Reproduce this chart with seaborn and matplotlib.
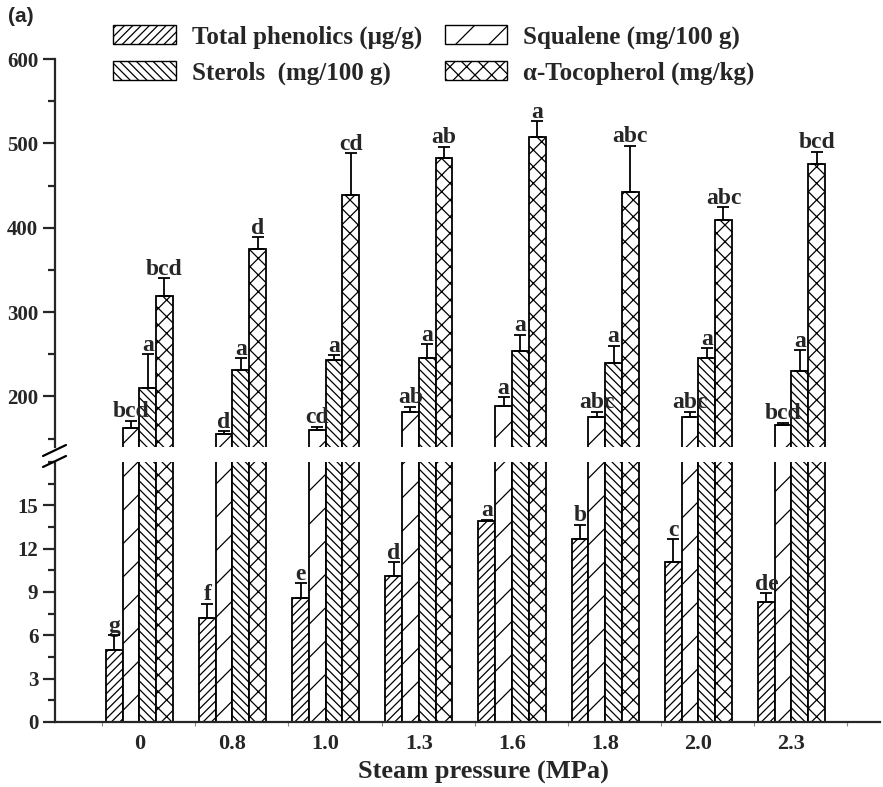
import numpy as np
import pandas as pd
import matplotlib
matplotlib.use("Agg")
import matplotlib.pyplot as plt
import seaborn as sns
from matplotlib.patches import Patch
from matplotlib.lines import Line2D
from matplotlib.ticker import MultipleLocator, FixedLocator

PRESSURES = ["0", "0.8", "1.0", "1.3", "1.6", "1.8", "2.0", "2.3"]
SERIES = ["Total phenolics (μg/g)", "Squalene (mg/100 g)",
          "Sterols  (mg/100 g)", "α-Tocopherol (mg/kg)"]
HATCHES = ["////", "/", "\\\\\\\\", "xx"]

phenolics = [5.0, 7.2, 8.6, 10.1, 13.9, 12.7, 11.1, 8.3]
phenolics_err = [1.0, 1.0, 1.0, 0.95, 0.1, 0.95, 1.55, 0.6]
squalene = [162, 155, 160, 181, 189, 175, 176, 166]
squalene_err = [9, 4, 4, 7, 10, 7, 6, 3]
sterols = [210, 231, 243, 245, 254, 240, 245, 230]
sterols_err = [40, 14, 6, 17, 19, 20, 12, 25]
tocopherol = [319, 375, 439, 483, 508, 442, 409, 475]
tocopherol_err = [21, 14, 49, 13, 18, 55, 15, 15]

phenolics_sig = ["g", "f", "e", "d", "a", "b", "c", "de"]
squalene_sig = ["bcd", "d", "cd", "ab", "a", "abc", "abc", "bcd"]
sterols_sig = ["a", "a", "a", "a", "a", "a", "a", "a"]
tocopherol_sig = ["bcd", "d", "cd", "ab", "a", "abc", "abc", "bcd"]

values = [phenolics, squalene, sterols, tocopherol]
errors = [phenolics_err, squalene_err, sterols_err, tocopherol_err]
letters = [phenolics_sig, squalene_sig, sterols_sig, tocopherol_sig]

df = pd.DataFrame({
    "pressure": PRESSURES * 4,
    "series": [s for s in SERIES for _ in PRESSURES],
    "value": [v for vals in values for v in vals],
})

sns.set_style("ticks")
plt.rcParams["font.family"] = ["Liberation Serif", "DejaVu Serif"]
plt.rcParams["font.weight"] = "bold"
plt.rcParams["hatch.linewidth"] = 0.9

fig = plt.figure(figsize=(8.83, 7.87), dpi=100)
ax_top = fig.add_axes([0.0623, 0.432, 0.9343, 0.493])
ax_bot = fig.add_axes([0.0623, 0.0826, 0.9343, 0.3304])

for ax in (ax_top, ax_bot):
    sns.barplot(data=df, x="pressure", y="value", hue="series",
                order=PRESSURES, hue_order=SERIES, palette=["white"] * 4,
                width=0.72, edgecolor="black", linewidth=1.3,
                errorbar=None, legend=False, ax=ax)
    bar_groups = list(ax.containers)
    for k, cont in enumerate(bar_groups):
        xs = []
        for p in cont.patches:
            p.set_hatch(HATCHES[k])
            xs.append(p.get_x() + p.get_width() / 2)
        ax.errorbar(xs, values[k], yerr=[np.zeros(8), errors[k]], fmt="none",
                    ecolor="black", elinewidth=1.3, capsize=4.5, capthick=1.3,
                    zorder=5)
        target = ax_bot if k == 0 else ax_top
        if ax is target:
            for x, v, e, t in zip(xs, values[k], errors[k], letters[k]):
                ax.annotate(t, (x, v + e), xytext=(0, 2.5),
                            textcoords="offset points", ha="center",
                            va="baseline", fontsize=17, fontweight="bold")
    ax.set_xlim(-0.905, 7.95)
    ax.set_xlabel("")
    ax.set_ylabel("")
    for side in ("top", "right"):
        ax.spines[side].set_visible(False)
    ax.spines["left"].set_linewidth(1.6)
    ax.spines["bottom"].set_linewidth(1.6)
    ax.tick_params(axis="y", which="major", length=9, width=1.6,
                   labelsize=15, pad=3)
    ax.tick_params(axis="y", which="minor", length=5, width=1.6)

ax_top.set_ylim(140, 600)
ax_top.set_yticks([200, 300, 400, 500, 600])
ax_top.yaxis.set_minor_locator(MultipleLocator(50))
ax_top.spines["bottom"].set_visible(False)
ax_top.tick_params(axis="x", which="both", bottom=False, labelbottom=False)

ax_bot.set_ylim(0, 18)
ax_bot.set_yticks([0, 3, 6, 9, 12, 15])
ax_bot.yaxis.set_minor_locator(MultipleLocator(1.5))
ax_bot.xaxis.set_minor_locator(FixedLocator(np.arange(9) - 0.4))
ax_bot.tick_params(axis="x", which="major", length=0, labelsize=16, pad=9)
ax_bot.tick_params(axis="x", which="minor", length=3, width=0.8,
                   color="#888888")
ax_bot.set_xlabel("Steam pressure (MPa)", fontsize=19, fontweight="bold",
                  labelpad=3)
ax_bot.xaxis.set_label_coords(0.519, -0.15)

for ax in (ax_top, ax_bot):
    for lab in ax.get_xticklabels() + ax.get_yticklabels():
        lab.set_fontweight("bold")

# axis break marks
W, H = 883, 787
for y0 in (456, 467):
    fig.add_artist(Line2D([43 / W, 66 / W], [1 - y0 / H, 1 - (y0 - 11) / H],
                          color="black", lw=1.6))

legend_order = [0, 2, 1, 3]
handles = [Patch(facecolor="white", edgecolor="black", hatch=HATCHES[i], lw=1.0)
           for i in legend_order]
fig.legend(handles, [SERIES[i] for i in legend_order], loc="upper left",
           bbox_to_anchor=(113 / W, 1 - 25 / H), ncol=2, frameon=False,
           borderpad=0, borderaxespad=0, handlelength=2.5, handleheight=0.8,
           handletextpad=0.65, columnspacing=0.9, labelspacing=0.5,
           prop={"weight": "bold", "size": 18})

fig.text(8 / W, 1 - 17 / H, "(a)", fontsize=15, fontweight="bold",
         family="Liberation Sans", va="center")

fig.savefig("out.png", dpi=100)
